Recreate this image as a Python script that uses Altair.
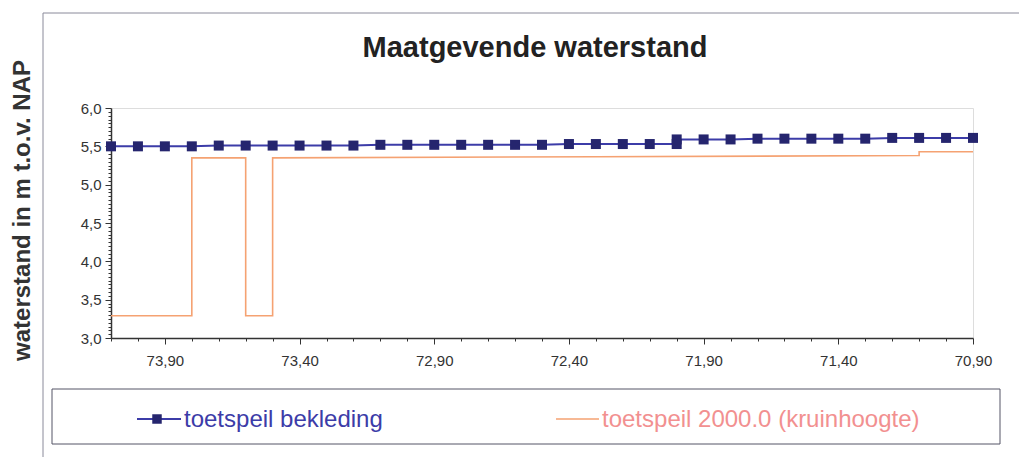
import altair as alt
import pandas as pd

# ---- data ----
km_blue = [74.1, 74.0, 73.9, 73.8, 73.7, 73.6, 73.5, 73.4, 73.3, 73.2, 73.1,
           73.0, 72.9, 72.8, 72.7, 72.6, 72.5, 72.4, 72.3, 72.2, 72.1, 72.0,
           72.0, 71.9, 71.8, 71.7, 71.6, 71.5, 71.4, 71.3, 71.2, 71.1, 71.0, 70.9]
wl_blue = [5.50, 5.50, 5.50, 5.50, 5.51, 5.51, 5.51, 5.51, 5.51, 5.51, 5.52,
           5.52, 5.52, 5.52, 5.52, 5.52, 5.52, 5.53, 5.53, 5.53, 5.53, 5.53,
           5.59, 5.59, 5.59, 5.60, 5.60, 5.60, 5.60, 5.60, 5.61, 5.61, 5.61, 5.61]

km_orange = [74.1, 73.8, 73.8, 73.6, 73.6, 73.5, 73.5, 72.3, 71.1, 71.1, 70.9]
wl_orange = [3.29, 3.29, 5.35, 5.35, 3.29, 3.29, 5.35, 5.365, 5.38, 5.43, 5.43]

series_names = ["toetspeil bekleding", "toetspeil 2000.0 (kruinhoogte)"]
title_text = "Maatgevende waterstand"
y_title = "waterstand in m t.o.v. NAP"

x_ticks = [round(74.1 - 0.1 * k, 2) for k in range(33)]
y_ticks = [round(3.0 + 0.05 * k, 2) for k in range(61)]

blue_df = pd.DataFrame({"km": km_blue, "wl": wl_blue, "i": list(range(len(km_blue)))})
orange_df = pd.DataFrame({"km": km_orange, "wl": wl_orange, "i": list(range(len(km_orange)))})
one = pd.DataFrame({"k": [0]})

W, H = 862, 230
BLUE_LINE = "#3c3ca8"
BLUE_MARK = "#25256e"
ORANGE = "#f5a272"
ORANGE_TXT = "#f29090"
FONT = "Liberation Sans"

x_major = "abs((datum.value-70.9)*2 - round((datum.value-70.9)*2)) < 0.01"
y_major = "abs(datum.value*2 - round(datum.value*2)) < 0.01"

x_scale = alt.Scale(domain=[70.9, 74.1], reverse=True, nice=False, zero=False)
y_scale = alt.Scale(domain=[3.0, 6.0], nice=False, zero=False)

x_axis = alt.Axis(
    values=x_ticks, title=None, grid=False,
    labelExpr=f"{x_major} ? replace(format(datum.value, '.2f'), '.', ',') : ''",
    labelOverlap=False, labelFont=FONT, labelFontSize=15, labelColor="#333",
    labelPadding=9, labelFlush=False,
    tickSize={"condition": {"test": x_major, "value": 6}, "value": 3},
    tickColor="#333", domainColor="#333", domainWidth=1.5,
)
y_axis = alt.Axis(
    values=y_ticks, title=y_title, grid=False,
    labelExpr=f"{y_major} ? replace(format(datum.value, '.1f'), '.', ',') : ''",
    labelOverlap=False, labelFont=FONT, labelFontSize=15, labelColor="#333",
    labelPadding=4, labelFlush=False,
    tickSize={"condition": {"test": y_major, "value": 6}, "value": 3},
    tickColor="#333", domainColor="#333", domainWidth=1.5,
    titleFont=FONT, titleFontSize=24, titleFontWeight="bold", titleColor="#333",
    titleX=-89, titleY=102, titleAngle=270, titleAlign="center", titleBaseline="middle",
)

x_enc = alt.X("km:Q", scale=x_scale, axis=x_axis)
y_enc = alt.Y("wl:Q", scale=y_scale, axis=y_axis)

outer = alt.Chart(one).mark_rect(fill=None, stroke="#8a8a9a", strokeWidth=1).encode(
    x=alt.value(-68), x2=alt.value(960), y=alt.value(-95), y2=alt.value(400))

orange_line = alt.Chart(orange_df).mark_line(color=ORANGE, strokeWidth=1.6).encode(
    x=x_enc, y=y_enc, order="i:Q")
blue_line = alt.Chart(blue_df).mark_line(color=BLUE_LINE, strokeWidth=2).encode(
    x=x_enc, y=y_enc, order="i:Q")
blue_pts = alt.Chart(blue_df).mark_square(size=100, color=BLUE_MARK, opacity=1).encode(
    x=x_enc, y=y_enc)

leg_box = alt.Chart(one).mark_rect(fill="white", stroke="#555566", strokeWidth=1).encode(
    x=alt.value(-59), x2=alt.value(889), y=alt.value(281), y2=alt.value(336))
leg_blue_line = alt.Chart(one).mark_rule(color=BLUE_LINE, strokeWidth=2).encode(
    x=alt.value(26), x2=alt.value(70), y=alt.value(311))
leg_blue_sq = alt.Chart(one).mark_square(size=90, color=BLUE_MARK, opacity=1).encode(
    x=alt.value(46), y=alt.value(311))
leg_blue_txt = alt.Chart(one).mark_text(
    text=series_names[0], font=FONT, fontSize=24, color=BLUE_LINE,
    align="left", baseline="middle").encode(x=alt.value(73), y=alt.value(312))
leg_or_line = alt.Chart(one).mark_rule(color=ORANGE, strokeWidth=1.6).encode(
    x=alt.value(445), x2=alt.value(488), y=alt.value(311))
leg_or_txt = alt.Chart(one).mark_text(
    text=series_names[1], font=FONT, fontSize=24, color=ORANGE_TXT,
    align="left", baseline="middle").encode(x=alt.value(491), y=alt.value(312))

chart = alt.layer(
    outer, orange_line, blue_line, blue_pts,
    leg_box, leg_blue_line, leg_blue_sq, leg_blue_txt, leg_or_line, leg_or_txt,
).properties(
    width=W, height=H,
    title=alt.TitleParams(title_text, font=FONT, fontSize=29, fontWeight="bold",
                          color="#222", anchor="middle", frame="group",
                          baseline="alphabetic", offset=-73, dx=-7),
    autosize=alt.AutoSizeParams(type="none"),
    padding={"left": 103, "top": 100, "right": 46, "bottom": 119},
).configure_view(stroke="#5a4848", strokeWidth=1.2).configure(background="white")

chart.save("out.html", embed_options={"renderer": "svg", "actions": False})
